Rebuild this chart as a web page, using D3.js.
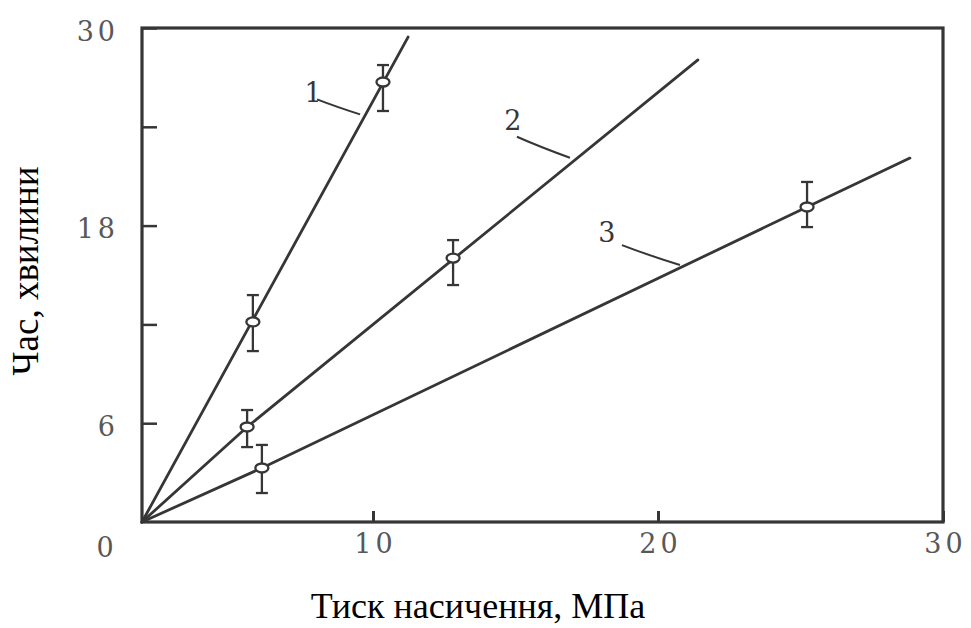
<!DOCTYPE html>
<html>
<head>
<meta charset="utf-8">
<script src="https://cdn.jsdelivr.net/npm/d3@7"></script>
<style>
  html, body { margin: 0; padding: 0; background: #fff; }
  svg { display: block; }
</style>
</head>
<body>
<svg id="chart" width="971" height="628"></svg>
<script>
// ---------- data ----------
const xTickValues = [10, 20, 30];
const yTickValues = [6, 12, 18, 24, 30];
const yTickLabels = [6, 18, 30];
const xAxisTitle = "Тиск насичення, МПа";
const yAxisTitle = "Час, хвилини";
const curveNames = ["1", "2", "3"];

// fitted lines (x in MPa, y in minutes)
const line1X = [0, 11.23];
const line1Y = [0, 29.45];
const line2X = [0, 4.55, 21.40];
const line2Y = [0, 5.77, 28.06];
const line3X = [0, 5.19, 25.23, 28.84];
const line3Y = [0, 3.28, 19.13, 22.10];

// measured points with error bars
const pts1X = [4.80, 10.35];
const pts1Y = [12.15, 26.72];
const pts1Lo = [10.38, 24.96];
const pts1Hi = [13.78, 27.75];

const pts2X = [4.55, 12.81];
const pts2Y = [5.77, 16.03];
const pts2Lo = [4.55, 14.39];
const pts2Hi = [6.80, 17.12];

const pts3X = [5.19, 25.23];
const pts3Y = [3.28, 19.13];
const pts3Lo = [1.76, 17.91];
const pts3Hi = [4.68, 20.65];

// x position (MPa) where each curve's leader line touches it
const leaderAtX = [9.44, 16.91, 20.77];

// ---------- layout ----------
const svg = d3.select("#chart");
const mLeft = 142, mRight = 943, mTop = 28, mBottom = 522;
const ink = "#363636";
const labelInk = "#585858";
const tickFont = "DejaVu Serif";
const tickSize = 27;
const tickSpacing = 4;

const x = d3.scaleLinear().domain([0, 10, 20, 30]).range([mLeft, 373, 658, mRight]);
const y = d3.scaleLinear().domain([0, 30]).range([mBottom, mTop]);

// frame
svg.append("rect")
  .attr("x", mLeft).attr("y", mTop)
  .attr("width", mRight - mLeft).attr("height", mBottom - mTop)
  .attr("fill", "none").attr("stroke", ink).attr("stroke-width", 3.2);

// x axis
const gx = svg.append("g").attr("transform", `translate(0,${mBottom})`)
  .call(d3.axisBottom(x).tickValues(xTickValues).tickSizeInner(-11).tickSizeOuter(0).tickPadding(12));
gx.select(".domain").remove();
gx.selectAll(".tick line").attr("stroke", ink).attr("stroke-width", 3);
gx.selectAll(".tick text")
  .attr("fill", labelInk).attr("font-family", tickFont).attr("font-size", tickSize)
  .attr("letter-spacing", tickSpacing).attr("dx", tickSpacing / 2);

// shared corner "0"
svg.append("text")
  .attr("x", x(0) - 37).attr("y", mBottom + 26)
  .attr("dy", "0.32em").attr("text-anchor", "middle")
  .attr("fill", labelInk).attr("font-family", tickFont).attr("font-size", tickSize)
  .text("0");

// y axis
const gy = svg.append("g").attr("transform", `translate(${mLeft},0)`)
  .call(d3.axisLeft(y).tickValues(yTickValues).tickSizeInner(-15).tickSizeOuter(0).tickPadding(27)
    .tickFormat(d => yTickLabels.includes(d) ? d : ""));
gy.select(".domain").remove();
gy.selectAll(".tick line").attr("stroke", ink).attr("stroke-width", 2.5);
gy.selectAll(".tick text")
  .attr("fill", labelInk).attr("font-family", tickFont).attr("font-size", tickSize)
  .attr("letter-spacing", tickSpacing).attr("dx", tickSpacing).attr("dy", "0.45em");

// lines
const lineGen = d3.line().x(d => x(d[0])).y(d => y(d[1]));
const linesData = [
  d3.zip(line1X, line1Y),
  d3.zip(line2X, line2Y),
  d3.zip(line3X, line3Y)
];
svg.append("g").selectAll("path").data(linesData).join("path")
  .attr("d", lineGen)
  .attr("fill", "none").attr("stroke", ink).attr("stroke-width", 2.8)
  .attr("stroke-linejoin", "round").attr("stroke-linecap", "round");

// points + error bars
const pointSets = [
  [pts1X, pts1Y, pts1Lo, pts1Hi],
  [pts2X, pts2Y, pts2Lo, pts2Hi],
  [pts3X, pts3Y, pts3Lo, pts3Hi]
];
const pts = [];
pointSets.forEach(([xs, ys, lo, hi]) => xs.forEach((v, i) => pts.push({x: v, y: ys[i], lo: lo[i], hi: hi[i]})));
const cap = 6;
const pg = svg.append("g").selectAll("g").data(pts).join("g");
pg.append("line")
  .attr("x1", d => x(d.x)).attr("x2", d => x(d.x))
  .attr("y1", d => y(d.lo)).attr("y2", d => y(d.hi))
  .attr("stroke", ink).attr("stroke-width", 2.3);
pg.append("line")
  .attr("x1", d => x(d.x) - cap).attr("x2", d => x(d.x) + cap)
  .attr("y1", d => y(d.hi)).attr("y2", d => y(d.hi))
  .attr("stroke", ink).attr("stroke-width", 2.3);
pg.append("line")
  .attr("x1", d => x(d.x) - cap).attr("x2", d => x(d.x) + cap)
  .attr("y1", d => y(d.lo)).attr("y2", d => y(d.lo))
  .attr("stroke", ink).attr("stroke-width", 2.3);
pg.append("ellipse")
  .attr("cx", d => x(d.x)).attr("cy", d => y(d.y))
  .attr("rx", 6.5).attr("ry", 4.5)
  .attr("fill", "#fff").attr("stroke", ink).attr("stroke-width", 2.3);

// curve labels with leader lines
function yOnLine(xs, ys, v) {
  return d3.scaleLinear().domain(xs).range(ys)(v);
}
const lineXs = [line1X, line2X, line3X];
const lineYs = [line1Y, line2Y, line3Y];
const leaderOffsets = [[-43, -15], [-53, -21], [-58, -20]];
const labelOffsets = [[-47, -22], [-57, -37], [-73, -33]];
curveNames.forEach((name, i) => {
  const px = x(leaderAtX[i]);
  const py = y(yOnLine(lineXs[i], lineYs[i], leaderAtX[i]));
  const [ox, oy] = leaderOffsets[i];
  svg.append("path")
    .attr("d", `M${px + ox},${py + oy} Q${px + ox * 0.55},${py + oy * 0.5} ${px},${py}`)
    .attr("fill", "none").attr("stroke", ink).attr("stroke-width", 2);
  const [lx, ly] = labelOffsets[i];
  svg.append("text")
    .attr("x", px + lx).attr("y", py + ly)
    .attr("dy", "0.35em").attr("text-anchor", "middle")
    .attr("fill", ink).attr("font-family", tickFont).attr("font-size", 27)
    .text(name);
});

// axis titles
svg.append("text")
  .attr("x", 478).attr("y", 618)
  .attr("text-anchor", "middle")
  .attr("font-family", "Liberation Serif").attr("font-size", 36).attr("fill", "#000")
  .text(xAxisTitle);
svg.append("text")
  .attr("transform", "translate(38,271) rotate(-90)")
  .attr("text-anchor", "middle")
  .attr("font-family", "Liberation Serif").attr("font-size", 37).attr("fill", "#000")
  .text(yAxisTitle);
</script>
</body>
</html>
